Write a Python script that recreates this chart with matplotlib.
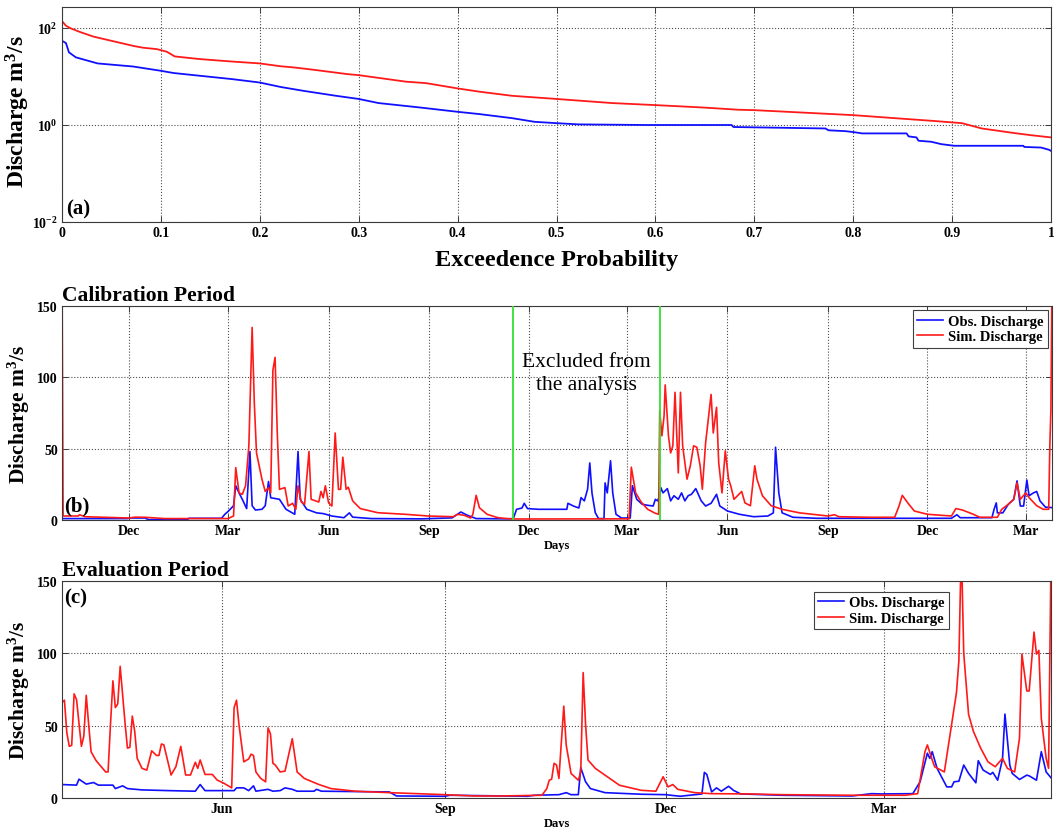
import numpy as np
import matplotlib
matplotlib.use("Agg")
import matplotlib.pyplot as plt
import matplotlib.dates as mdates
from matplotlib.ticker import FixedLocator, FixedFormatter, NullLocator

# ---------------- data ----------------
# (a) flow duration curves: exceedence probability vs discharge (m3/s)
fdc_sim_p = [0, 0.004, 0.009, 0.019, 0.032, 0.049, 0.072, 0.082, 0.096, 0.106,
             0.114, 0.139, 0.172, 0.2, 0.221, 0.235, 0.255, 0.289, 0.3, 0.348,
             0.368, 0.4, 0.422, 0.455, 0.5, 0.556, 0.6, 0.646, 0.684, 0.7,
             0.745, 0.8, 0.846, 0.879, 0.9, 0.91, 0.93, 0.963, 0.98, 1.0]
fdc_sim_q = [136, 109, 96, 80, 65, 54, 42, 38.5, 36, 31.8,
             25.5, 22.5, 20, 18.3, 16.0, 15.1, 13.5, 11, 10.5, 7.7,
             7.2, 5.6, 4.8, 3.95, 3.4, 2.8, 2.54, 2.28, 2.04, 2.0,
             1.8, 1.58, 1.35, 1.21, 1.12, 1.08, 0.84, 0.675, 0.61, 0.55]
fdc_obs_p = [0, 0.004, 0.006, 0.007, 0.014, 0.036, 0.072, 0.1, 0.113, 0.172,
             0.2, 0.221, 0.244, 0.277, 0.3, 0.32, 0.361, 0.4, 0.422, 0.455,
             0.478, 0.5, 0.522, 0.59, 0.646, 0.677, 0.679, 0.772, 0.775, 0.792,
             0.802, 0.809, 0.854, 0.856, 0.864, 0.866, 0.879, 0.889, 0.902, 0.972,
             0.973, 0.99, 0.998, 1.0]
fdc_obs_q = [53.5, 48, 36, 31, 24.4, 18.3, 15.8, 12.9, 11.6, 8.7,
             7.4, 6.0, 5.0, 3.95, 3.4, 2.8, 2.28, 1.85, 1.66, 1.37,
             1.15, 1.08, 1.02, 0.99, 0.99, 0.99, 0.9, 0.84, 0.77, 0.74,
             0.70, 0.665, 0.665, 0.577, 0.55, 0.47, 0.447, 0.40, 0.37, 0.37,
             0.35, 0.34, 0.306, 0.29]

# (b) calibration period, days counted from cal_start
cal_start = "2003-10-01"
cal_end_day = 906
cal_obs_day = [0, 60, 62, 76, 79, 115, 116, 146, 149, 152, 157, 159, 162, 165, 169,
               172, 174, 177, 183, 186, 189, 191, 199, 205, 213, 216, 218, 224, 233,
               239, 247, 258, 263, 266, 283, 329, 357, 365, 371, 379, 407, 413, 416,
               421, 423, 426, 436, 462, 463, 468, 473, 475, 478, 481, 483, 485, 488,
               491, 496, 497, 499, 502, 504, 507, 512, 520, 522, 526, 531, 536, 541,
               543, 545, 547, 548, 550, 554, 557, 560, 564, 567, 570, 573, 576, 580,
               585, 589, 594, 599, 602, 609, 620, 633, 646, 651, 653, 656, 659, 669,
               691, 756, 814, 819, 822, 851, 853, 855, 856, 861, 866, 871, 874, 877,
               880, 883, 885, 889, 892, 895, 900, 906]
cal_obs_q = [1.0, 1.0, 1.4, 1.4, 0.3, 0.3, 1.2, 1.2, 4.0, 6.0, 10.0, 24.0, 19.0, 14.5, 8.0,
             48.0, 10.0, 7.0, 7.5, 10.0, 27.0, 15.6, 14.5, 7.5, 4.0, 48.0, 14.5, 7.5, 5.0,
             4.5, 2.8, 1.6, 5.0, 2.0, 1.0, 0.8, 1.5, 5.6, 3.3, 1.0, 0.8, 1.0, 7.5,
             8.4, 11.7, 8.0, 7.5, 7.5, 11.7, 9.8, 8.4, 15.7, 13.4, 21.6, 40.0, 19.0, 5.2,
             1.0, 1.0, 26.0, 19.0, 41.5, 19.0, 4.0, 1.4, 1.4, 24.0, 14.5, 11.0, 10.3, 9.8,
             14.5, 13.4, 16.9, 22.7, 19.0, 22.0, 13.4, 17.0, 14.5, 19.0, 13.4, 17.0, 18.0, 22.0,
             13.4, 9.8, 11.7, 18.0, 9.8, 6.3, 4.0, 2.3, 2.8, 5.0, 51.0, 19.0, 5.0, 1.9,
             1.2, 1.2, 1.2, 3.7, 1.6, 1.6, 7.5, 12.0, 5.0, 5.0, 11.0, 14.5, 27.4, 9.8,
             9.8, 28.0, 17.0, 19.0, 20.0, 13.4, 9.0, 8.7]
cal_sim_day = [0, 1, 15, 16, 21, 61, 67, 76, 94, 152, 157, 159, 162, 165, 168, 171, 174,
               176, 178, 183, 186, 189, 191, 193, 195, 197, 199, 204, 207, 211, 214, 216,
               219, 222, 226, 228, 235, 237, 239, 241, 244, 247, 250, 253, 255, 257, 260,
               262, 266, 273, 289, 314, 335, 358, 362, 368, 374, 376, 379, 382, 389, 399,
               412, 519, 521, 525, 530, 536, 543, 546, 547, 549, 551, 552, 555, 557, 559,
               561, 564, 566, 568, 572, 575, 578, 581, 584, 586, 589, 594, 596, 599, 601,
               604, 607, 610, 612, 615, 622, 625, 630, 634, 636, 641, 649, 659, 675, 701,
               707, 711, 740, 762, 766, 769, 774, 780, 792, 814, 818, 824, 834, 840, 856,
               860, 866, 871, 874, 877, 882, 885, 892, 898, 903, 904, 905, 906]
cal_sim_q = [180.0, 2.8, 2.8, 3.7, 2.3, 1.4, 2.0, 1.9, 1.0, 1.0, 2.8, 36.7, 19.0, 18.0, 24.0,
             52.0, 135.0, 82.0, 47.0, 28.5, 20.0, 22.7, 19.0, 105.0, 114.0, 61.0, 21.5, 22.7,
             9.8, 11.7, 7.5, 24.0, 12.6, 11.0, 48.0, 14.5, 12.6, 20.0, 15.6, 24.0, 12.0, 9.8,
             61.0, 21.5, 21.5, 44.0, 21.5, 23.0, 13.4, 8.0, 5.1, 4.0, 2.8, 2.3, 4.0, 3.3,
             1.4, 4.0, 17.3, 8.6, 4.0, 1.6, 0.7, 0.8, 37.0, 19.0, 12.6, 7.5, 4.7, 4.0,
             76.6, 59.0, 73.0, 94.7, 59.0, 47.0, 52.0, 89.5, 33.0, 89.5, 52.0, 28.6, 38.0,
             52.0, 51.0, 38.0, 21.6, 54.0, 88.0, 61.0, 79.0, 40.0, 19.0, 48.5, 28.6, 24.0,
             14.5, 20.0, 12.0, 10.0, 38.0, 28.6, 17.0, 10.0, 7.5, 5.0, 2.8, 3.7, 2.3, 1.9,
             1.9, 9.8, 17.3, 12.0, 6.3, 4.0, 2.8, 8.0, 7.0, 4.0, 1.9, 1.9, 7.5, 11.0, 14.5,
             26.0, 14.5, 19.0, 15.7, 10.0, 7.5, 7.5, 52.0, 77.0, 170.0]
excluded_days = [413, 547]

# (c) evaluation period, days counted from eval_start
eval_start = "2006-03-27"
eval_end_day = 408
eval_obs_day = [0, 6, 7, 10, 13, 15, 21, 22, 25, 27, 33, 44, 55, 57, 59, 71, 72, 75, 77,
                79, 80, 85, 87, 90, 92, 95, 97, 104, 105, 107, 135, 138, 158, 160, 192,
                195, 205, 208, 210, 213, 214, 216, 218, 224, 239, 249, 255, 264, 265, 266,
                268, 270, 272, 275, 277, 280, 297, 326, 334, 338, 351, 354, 357, 358, 359,
                361, 365, 367, 368, 370, 372, 374, 377, 378, 380, 383, 384, 386, 388, 389,
                391, 392, 395, 398, 399, 402, 404, 406, 408]
eval_obs_q = [9.3, 8.9, 13, 9.6, 10.7, 8.9, 8.9, 6.5, 8.4, 6.5, 5.6, 5.1, 4.7, 9.3, 5.1,
              5.1, 7, 7, 5.1, 8.4, 4.7, 6, 4.7, 5.1, 7, 6, 4.7, 4.7, 6, 4.7, 4.2, 1.4,
              1.2, 1.9, 1.2, 1.9, 2.3, 3.7, 2.3, 2.3, 21, 11.2, 6.5, 3.7, 2.6, 2.3, 1.2,
              2.8, 17.7, 16.3, 4.2, 7, 4.7, 8.1, 5.3, 2.8, 1.9, 1.4, 3, 2.8, 3, 11.2, 31,
              27.4, 32, 20.5, 7.7, 7.7, 11.2, 11.6, 22.8, 17, 10.5, 25.8, 19.3, 16.3, 17.7,
              12.3, 27, 58, 22.8, 17, 12.8, 15.8, 15.3, 12.3, 32, 18, 14]
eval_sim_day = [0, 1, 2, 3, 4, 5, 6, 8, 9, 10, 11, 12, 14, 18, 19, 20, 21, 22, 23, 24,
                26, 27, 28, 29, 30, 31, 33, 35, 37, 39, 40, 41, 42, 45, 47, 49, 51, 53,
                55, 56, 57, 59, 62, 64, 67, 70, 71, 72, 73, 75, 77, 78, 79, 80, 82, 84,
                85, 86, 87, 88, 90, 92, 95, 97, 100, 106, 111, 121, 135, 158, 170, 181,
                198, 200, 201, 202, 203, 204, 205, 207, 208, 210, 213, 214, 215, 216, 217,
                220, 224, 230, 239, 245, 248, 250, 252, 254, 261, 268, 283, 297, 326, 348,
                353, 356, 357, 359, 360, 364, 367, 369, 370, 371, 372, 374, 376, 379, 382,
                385, 388, 390, 393, 395, 396, 398, 399, 401, 402, 403, 404, 406, 407, 408]
eval_sim_q = [66, 67.6, 45, 35.7, 36.4, 72, 68, 35.7, 42.7, 71, 50.8, 32, 26, 18, 18,
              50.8, 81, 62.5, 65, 91, 52, 34.5, 35, 56.6, 46, 27.5, 20.5, 19.3, 32.6, 29.4,
              29.4, 37.3, 36.8, 15.9, 21.7, 35.7, 15.9, 15.9, 24.7, 20.5, 26.3, 16.3, 16.3,
              12.4, 10, 7, 62.5, 67.6, 50.8, 25, 27, 30.3, 29.4, 18, 13.5, 11.2, 48.5, 44.3,
              24, 22.8, 18, 18.6, 41, 18, 13.5, 9.3, 6.5, 4.7, 3.7, 2.3, 1.4, 1.4, 1.9, 6.5,
              12.3, 13, 24, 22.8, 13.5, 63.5, 36.7, 17, 12.3, 18, 86.7, 50.7, 26.3, 20.5,
              15.8, 8.8, 5.3, 4.7, 14.7, 7.7, 9.3, 6, 3.7, 3, 2.8, 2.3, 1.9, 1.9, 3, 32,
              36.7, 26.3, 21.6, 18, 50.7, 72.8, 95, 175, 100, 57.7, 46, 34.4, 25, 21.6,
              27.4, 20.5, 18, 41.4, 99.5, 74, 74, 114.7, 99.5, 102, 55, 27.4, 20.5, 165]

# ---------------- style ----------------
plt.rcParams.update({
    "font.family": "serif",
    "font.serif": ["Liberation Serif", "DejaVu Serif"],
    "font.weight": "bold",
    "mathtext.fontset": "custom",
    "mathtext.rm": "Liberation Serif:bold",
    "mathtext.bf": "Liberation Serif:bold",
    "mathtext.it": "Liberation Serif:bold:italic",
    "axes.linewidth": 0.8,
    "axes.edgecolor": "#3a3a3a",
})

BLUE = "#1010ff"
RED = "#ff1a1a"
GREEN = "#33e033"
TICK_FS = 10
GRID_KW = dict(linestyle=":", color="0.3", linewidth=0.8)


def to_dates(start, days):
    return np.datetime64(start) + np.asarray(days).astype("timedelta64[D]")


def style_axes(ax):
    ax.tick_params(direction="in", top=True, right=True, length=4, width=0.7,
                   labelsize=TICK_FS, pad=3, colors="#3a3a3a", labelcolor="black")
    ax.grid(True, **GRID_KW)
    ax.set_axisbelow(True)
    for lab in ax.get_xticklabels() + ax.get_yticklabels():
        lab.set_fontweight("bold")


def seasonal_months(ax):
    ax.xaxis.set_major_locator(mdates.MonthLocator(bymonth=[3, 6, 9, 12]))
    ax.xaxis.set_major_formatter(mdates.DateFormatter("%b"))


fig = plt.figure(figsize=(10.54, 8.28), dpi=100)
W, H = 1054, 828


def box(left, top, right, bottom):
    return [left / W, 1 - bottom / H, (right - left) / W, (bottom - top) / H]


ylabel = r"Discharge m$^{3}$/s"
leg_kw = dict(fontsize=10.5, frameon=True, fancybox=False, edgecolor="0.25",
              framealpha=1, handlelength=1.8, handletextpad=0.3, borderpad=0.3,
              labelspacing=0.15)

# ---------------- (a) flow duration curve ----------------
ax1 = fig.add_axes(box(62, 8, 1051, 223))
ax1.set_yscale("log")
ax1.plot(fdc_obs_p, fdc_obs_q, color=BLUE, lw=1.3)
ax1.plot(fdc_sim_p, fdc_sim_q, color=RED, lw=1.3)
ax1.set_xlim(0, 1)
ax1.set_ylim(0.01, 265)
ax1.yaxis.set_major_locator(FixedLocator([1e-2, 1e0, 1e2]))
ax1.yaxis.set_major_formatter(FixedFormatter([r"$10^{-2}$", r"$10^{0}$", r"$10^{2}$"]))
ax1.yaxis.set_minor_locator(NullLocator())
xt = np.round(np.arange(0, 1.01, 0.1), 1)
ax1.xaxis.set_major_locator(FixedLocator(xt))
ax1.xaxis.set_major_formatter(FixedFormatter([f"{v:g}" for v in xt]))
style_axes(ax1)
ax1.set_xlabel("Exceedence Probability", fontsize=17.5, fontweight="bold", labelpad=7)
ax1.set_ylabel(ylabel, fontsize=17, fontweight="bold")
ax1.yaxis.set_label_coords(-0.030, 0.52)
ax1.text(0.004, 0.015, "(a)", transform=ax1.transAxes, fontsize=15,
         fontweight="bold", ha="left", va="bottom")

# ---------------- (b) calibration period ----------------
ax2 = fig.add_axes(box(62, 307, 1052, 521))
cal_obs_t = to_dates(cal_start, cal_obs_day)
cal_sim_t = to_dates(cal_start, cal_sim_day)
ax2.plot(cal_obs_t, cal_obs_q, color=BLUE, lw=1.2, label="Obs. Discharge")
ax2.plot(cal_sim_t, cal_sim_q, color=RED, lw=1.2, label="Sim. Discharge")
for d in excluded_days:
    ax2.axvline(to_dates(cal_start, d), color=GREEN, lw=1.3, zorder=3)
ax2.set_xlim(to_dates(cal_start, 0), to_dates(cal_start, cal_end_day))
ax2.set_ylim(0, 150)
ax2.set_yticks([0, 50, 100, 150])
seasonal_months(ax2)
style_axes(ax2)
ax2.text(to_dates(cal_start, 480), 103, "Excluded from\nthe analysis",
         fontsize=15.5, fontweight="normal", ha="center", va="center",
         linespacing=1.25)
ax2.set_title("Calibration Period", loc="left", fontsize=15.5, fontweight="bold", pad=4)
ax2.set_xlabel("Days", fontsize=9, fontweight="bold", labelpad=1)
ax2.set_ylabel(ylabel, fontsize=15.5, fontweight="bold")
ax2.yaxis.set_label_coords(-0.030, 0.5)
ax2.text(0.002, 0.02, "(b)", transform=ax2.transAxes, fontsize=15,
         fontweight="bold", ha="left", va="bottom")
leg2 = ax2.legend(loc="upper right", borderaxespad=0.3, **leg_kw)
leg2.get_frame().set_linewidth(0.8)
for t in leg2.get_texts():
    t.set_fontweight("bold")

# ---------------- (c) evaluation period ----------------
ax3 = fig.add_axes(box(62, 582, 1051, 799))
eval_obs_t = to_dates(eval_start, eval_obs_day)
eval_sim_t = to_dates(eval_start, eval_sim_day)
ax3.plot(eval_obs_t, eval_obs_q, color=BLUE, lw=1.2, label="Obs. Discharge")
ax3.plot(eval_sim_t, eval_sim_q, color=RED, lw=1.2, label="Sim. Discharge")
ax3.set_xlim(to_dates(eval_start, 0), to_dates(eval_start, eval_end_day))
ax3.set_ylim(0, 150)
ax3.set_yticks([0, 50, 100, 150])
seasonal_months(ax3)
style_axes(ax3)
ax3.set_title("Evaluation Period", loc="left", fontsize=15.5, fontweight="bold", pad=4)
ax3.set_xlabel("Days", fontsize=9, fontweight="bold", labelpad=1)
ax3.set_ylabel(ylabel, fontsize=15.5, fontweight="bold")
ax3.yaxis.set_label_coords(-0.030, 0.5)
ax3.text(0.002, 0.97, "(c)", transform=ax3.transAxes, fontsize=15,
         fontweight="bold", ha="left", va="top")
leg3 = ax3.legend(loc="upper left", bbox_to_anchor=(0.760, 0.95), borderaxespad=0,
                  **leg_kw)
leg3.get_frame().set_linewidth(0.8)
for t in leg3.get_texts():
    t.set_fontweight("bold")

fig.savefig("out.png", dpi=100)
